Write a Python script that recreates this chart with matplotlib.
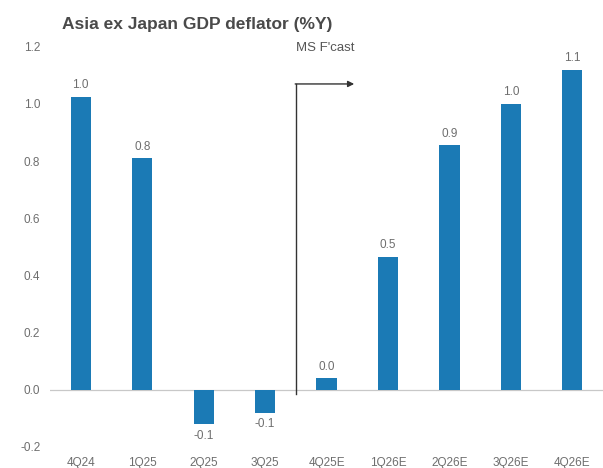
import matplotlib
matplotlib.use('Agg')
import matplotlib.pyplot as plt

plt.rcParams['font.family'] = ['Liberation Sans', 'DejaVu Sans']

# Data
quarters = ['4Q24', '1Q25', '2Q25', '3Q25', '4Q25E', '1Q26E', '2Q26E', '3Q26E', '4Q26E']
deflator = [1.025, 0.81, -0.12, -0.08, 0.04, 0.465, 0.855, 1.0, 1.12]
y_ticks = [-0.2, 0.0, 0.2, 0.4, 0.6, 0.8, 1.0, 1.2]

bar_color = '#1b7ab5'
text_color = '#6e6e6e'

fig = plt.figure(figsize=(6.03, 4.68), dpi=100)
ax = fig.add_axes([0.083, 0.045, 0.917, 0.855])

x = list(range(len(quarters)))
ax.bar(x, deflator, width=0.33, color=bar_color, zorder=3)

# value labels
for xi, v in zip(x, deflator):
    if v >= 0:
        ax.annotate(f'{v:.1f}', (xi, v), xytext=(0, 4), textcoords='offset points',
                    ha='center', va='bottom', fontsize=8.5, color=text_color)
    else:
        ax.annotate(f'{v:.1f}', (xi, v), xytext=(0, -4), textcoords='offset points',
                    ha='center', va='top', fontsize=8.5, color=text_color)

# zero line
ax.axhline(0, color='#c8c8c8', lw=0.9, zorder=1)

# forecast marker
ax.plot([3.5, 3.5], [-0.015, 1.07], color='#333333', lw=1, zorder=4)
ax.annotate('', xy=(4.45, 1.07), xytext=(3.49, 1.07),
            arrowprops=dict(arrowstyle='-|>', color='#333333', lw=1,
                            mutation_scale=9, shrinkA=0, shrinkB=0))
ax.text(4.45, 1.195, "MS F'cast", ha='right', va='center', fontsize=9.5, color='#555555')

ax.set_xlim(-0.5, 8.5)
ax.set_ylim(-0.2, 1.2)
ax.set_xticks(x)
ax.set_xticklabels(quarters)
ax.set_yticks(y_ticks)
ax.set_yticklabels([f'{t:.1f}' for t in y_ticks])
ax.tick_params(axis='both', length=0, labelsize=8.5, labelcolor=text_color)
ax.tick_params(axis='x', pad=7)
ax.tick_params(axis='y', pad=7)
for s in ax.spines.values():
    s.set_visible(False)

fig.text(0.103, 0.947, 'Asia ex Japan GDP deflator (%Y)', ha='left', va='center',
         fontsize=12.5, fontweight='bold', color='#4a4a4a')

plt.savefig('out.png', dpi=100)
